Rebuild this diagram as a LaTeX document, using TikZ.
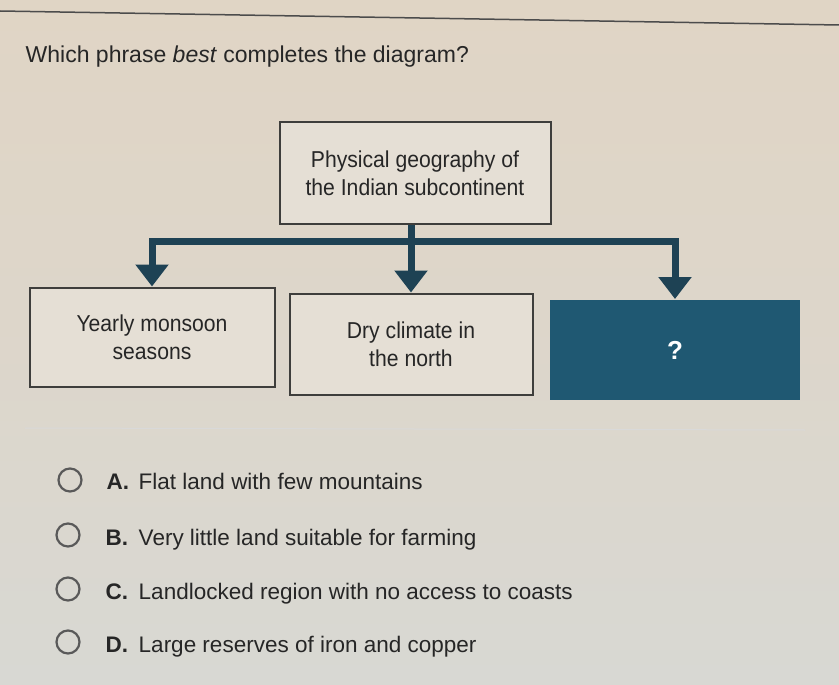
\documentclass[tikz,border=0pt]{standalone}
\usepackage{fontspec}
\setmainfont{Liberation Sans}
\newfontfamily\condensed{Liberation Sans}[FakeStretch=0.92]
\usetikzlibrary{arrows.meta,positioning}

\definecolor{paper}{RGB}{224,213,197}
\definecolor{paperlow}{RGB}{216,216,211}
\definecolor{boxfill}{RGB}{229,223,213}
\definecolor{boxline}{RGB}{62,62,60}
\definecolor{inktext}{RGB}{38,38,38}
\definecolor{qbox}{RGB}{31,88,114}
\definecolor{qarrow}{RGB}{30,66,84}

\begin{document}
\begin{tikzpicture}[x=1pt, y=-1pt, thick, text=inktext,
    main/.style = {draw=boxline, line width=2pt, fill=boxfill, align=center,
                   font=\condensed\fontsize{23}{28}\selectfont},
    link/.style = {draw=qarrow, line width=7pt},
    down/.style = {link, -{Triangle[width=32pt, length=22pt]}},
    radio/.style = {draw=gray!70!black, line width=2.2pt, circle, minimum size=23pt, inner sep=0pt},
    choice/.style = {anchor=base west, font=\fontsize{22.5}{27}\selectfont}]
    \useasboundingbox (0,0) rectangle (839,685);
    % screen background
    \shade[top color=paper, bottom color=paperlow, middle color=paper!60!paperlow] (0,0) rectangle (839,685);
    \draw[gray!60!black, line width=1.5pt] (0,11) -- (839,25);

    \node[anchor=base west, font=\fontsize{23}{28}\selectfont] (q) at (22,63)
        {Which phrase \textit{best} completes the diagram?};

    % the diagram
    \node[main, minimum width=271pt, minimum height=102pt] (1) at (415,173)
        {Physical geography of\\the Indian subcontinent};
    \node[main, minimum width=245pt, minimum height=99pt] (2) at (152,337)
        {Yearly monsoon\\seasons};
    \node[main, minimum width=243pt, minimum height=101pt] (3) at (411,344)
        {Dry climate in\\the north};
    \node[main, draw=none, fill=qbox, text=white, minimum width=250pt, minimum height=100pt,
          font=\fontsize{26}{30}\selectfont\bfseries] (4) at (675,350) {?};

    \coordinate (j) at (411,241);
    \draw[link] (1.south -| j) -- (j);
    \draw[down] (j) -| (2.north);
    \draw[down] (j) -- (3.north);
    \draw[down] (j) -| (4.north);

    \draw[gray!30, line width=1pt] (25,428) -- (805,430);

    % answer choices
    \node[radio] (a) at (70,480) {};
    \node[radio] (b) at (68,535) {};
    \node[radio] (c) at (68,589) {};
    \node[radio] (d) at (68,642) {};
    \node[choice] (ta) at (103,489) {\makebox[32pt][l]{\textbf{A.}}Flat land with few mountains};
    \node[choice] (tb) at (102,545) {\makebox[33pt][l]{\textbf{B.}}Very little land suitable for farming};
    \node[choice] (tc) at (102,599) {\makebox[33pt][l]{\textbf{C.}}Landlocked region with no access to coasts};
    \node[choice] (td) at (102,652) {\makebox[33pt][l]{\textbf{D.}}Large reserves of iron and copper};
\end{tikzpicture}
\end{document}
